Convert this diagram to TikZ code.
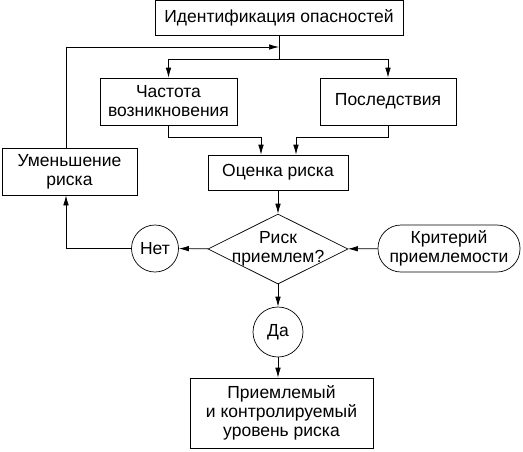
\documentclass[tikz,border=0pt]{standalone}
\usepackage{fontspec}
\setmainfont{Liberation Sans}
\usetikzlibrary{arrows.meta, calc, positioning, shapes.geometric}

\begin{document}
\begin{tikzpicture}[x=1pt, y=-1pt, line width=0.7pt, arro/.style = {-{Latex[length=10pt, width=5.5pt]}}]

\tikzstyle{format} = [draw, inner sep=0pt, align=center, font=\fontsize{17.5}{19}\selectfont]
\tikzstyle{medium} = [draw, circle, inner sep=0pt, minimum size=47pt, font=\fontsize{17.5}{19}\selectfont]
\tikzstyle{decide} = [draw, diamond, inner sep=0pt, minimum width=140pt, minimum height=70pt]

\useasboundingbox (0,0) rectangle (523,451);

% identification
\node[format, minimum width=248pt, minimum height=35pt] at (279,18) (ident) {Идентификация опасностей};
% frequency and consequences
\node[format, minimum width=137pt, minimum height=47pt] at (168.5,101.5) (freq) {Частота\\возникновения};
\node[format, minimum width=136pt, minimum height=47pt] at (388,101.5) (cons) {Последствия};
% connections
\coordinate (split) at (ident.south |- 0,59);
\draw (ident.south) -- (split);
\draw[arro] (split) -| (freq.north);
\draw[arro] (split) -| (cons.north);
% assessment
\node[format, minimum width=140pt, minimum height=35pt] at (278,172.5) (assess) {Оценка риска};
% connections
\draw[arro] (freq.south) |- (261,137) -- (assess.north -| 261,0);
\draw[arro] (cons.south) |- (296,137) -- (assess.north -| 296,0);
% decision
\node[decide] at (278,249) (accept) {};
\node[align=center, inner sep=0pt, font=\fontsize{17.5}{19}\selectfont] at (accept) (accepttext) {Риск\\приемлем?};
\draw[arro] (assess) -- (accept);
% criterion
\node[format, rounded corners=23pt, minimum width=142pt, minimum height=47pt] at (449,248.5) (crit) {Критерий\\приемлемости};
\draw[arro] (crit) -- (accept);
% no
\node[medium] at (155,248.5) (no) {Нет};
\node[format, minimum width=135pt, minimum height=47pt] at (69.5,171.5) (reduce) {Уменьшение\\риска};
\draw[arro] (accept) -- (no);
\draw[arro] (no) -| (reduce.south -| 66,0);
\draw[arro] (reduce.north -| 66,0) |- (split |- 0,47);
% yes
\node[medium, minimum size=50pt] at (278,332) (yes) {Да};
\draw[arro] (accept) -- (yes);
% final
\node[format, minimum width=183pt, minimum height=70pt] at (281.5,413) (final) {Приемлемый\\и~контролируемый\\уровень риска};
\draw[arro] (yes) -- (final.north -| yes);
\end{tikzpicture}
\end{document}
